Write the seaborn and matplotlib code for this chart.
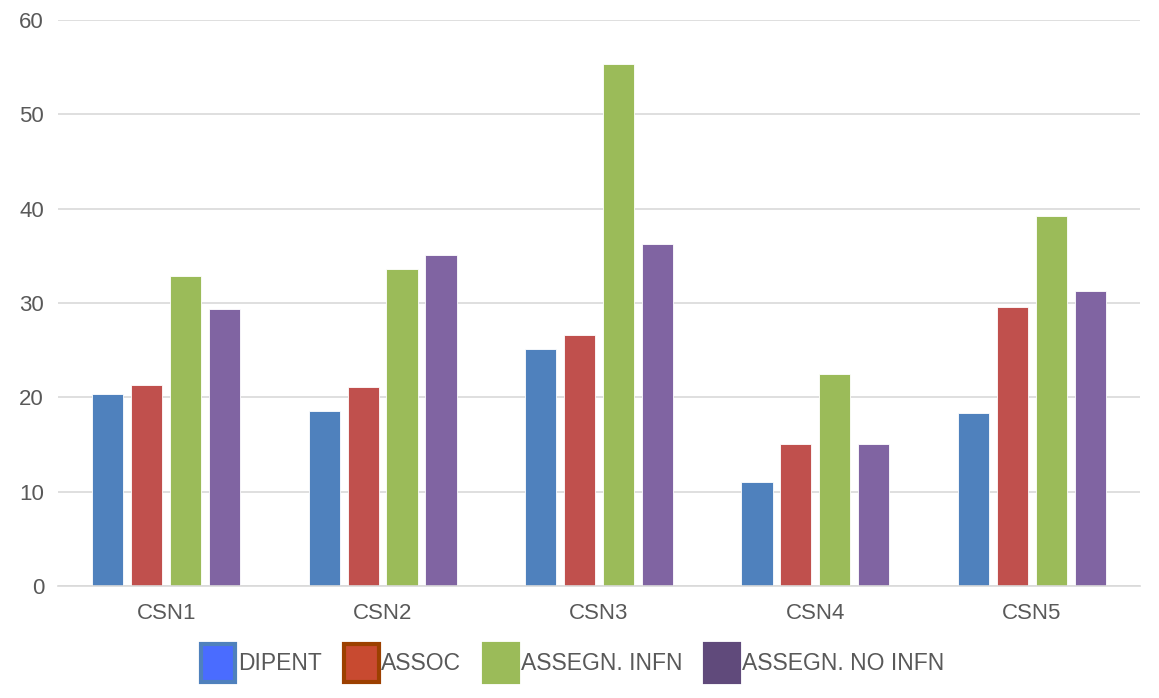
import pandas as pd
import matplotlib
matplotlib.use('Agg')
import matplotlib.pyplot as plt
import seaborn as sns
from matplotlib.patches import Patch

categories = ['CSN1', 'CSN2', 'CSN3', 'CSN4', 'CSN5']
series = ['DIPENT', 'ASSOC', 'ASSEGN. INFN', 'ASSEGN. NO INFN']
dipent = [20.3, 18.6, 25.1, 11.0, 18.3]
assoc = [21.3, 21.1, 26.6, 15.0, 29.6]
assegn_infn = [32.9, 33.6, 55.3, 22.5, 39.2]
assegn_no_infn = [29.4, 35.1, 36.3, 15.0, 31.3]

bar_colors = ['#4f81bd', '#c0504d', '#9bbb59', '#8064a2']
legend_faces = ['#4a6cff', '#c84a30', '#9bbb59', '#604a7b']
legend_edges = ['#4f81bd', '#9c4000', '#9bbb59', '#604a7b']

rows = []
for name, vals in zip(series, [dipent, assoc, assegn_infn, assegn_no_infn]):
    for cat, v in zip(categories, vals):
        rows.append({'cat': cat, 'serie': name, 'val': v})
df = pd.DataFrame(rows)

sns.set_theme(style="white")
plt.rcParams['font.family'] = ['Liberation Sans', 'DejaVu Sans']

fig = plt.figure(figsize=(11.59, 6.98), dpi=100)
ax = fig.add_axes([0.05, 0.1605, 0.9336, 0.8108])

sns.barplot(data=df, x='cat', y='val', hue='serie', hue_order=series,
            palette=bar_colors, width=0.72, gap=0.2, ax=ax,
            edgecolor='white', linewidth=0.6, saturation=1)

ax.set_ylim(0, 60)
ax.set_xlim(-0.5, 4.5)
ax.set_yticks(range(0, 61, 10))
ax.yaxis.grid(True, color='#d9d9d9', linewidth=1.2)
ax.set_axisbelow(True)
ax.set_xlabel('')
ax.set_ylabel('')
for s in ['top', 'right', 'left']:
    ax.spines[s].set_visible(False)
ax.spines['bottom'].set_color('#d9d9d9')
ax.spines['bottom'].set_linewidth(1.2)
ax.tick_params(axis='both', length=0, labelsize=16, colors='#595959')
ax.tick_params(axis='x', pad=12)
ax.tick_params(axis='y', pad=10)

ax.get_legend().remove()
handles = [Patch(facecolor=f, edgecolor=e, linewidth=3) for f, e in zip(legend_faces, legend_edges)]
fig.legend(handles, series, loc='center', bbox_to_anchor=(0.494, 0.05), ncol=4,
           frameon=False, fontsize=16.5, handlelength=1.5, handleheight=2.2,
           handletextpad=0.1, columnspacing=1.0, labelcolor='#595959')

fig.savefig('out.png', dpi=100)
